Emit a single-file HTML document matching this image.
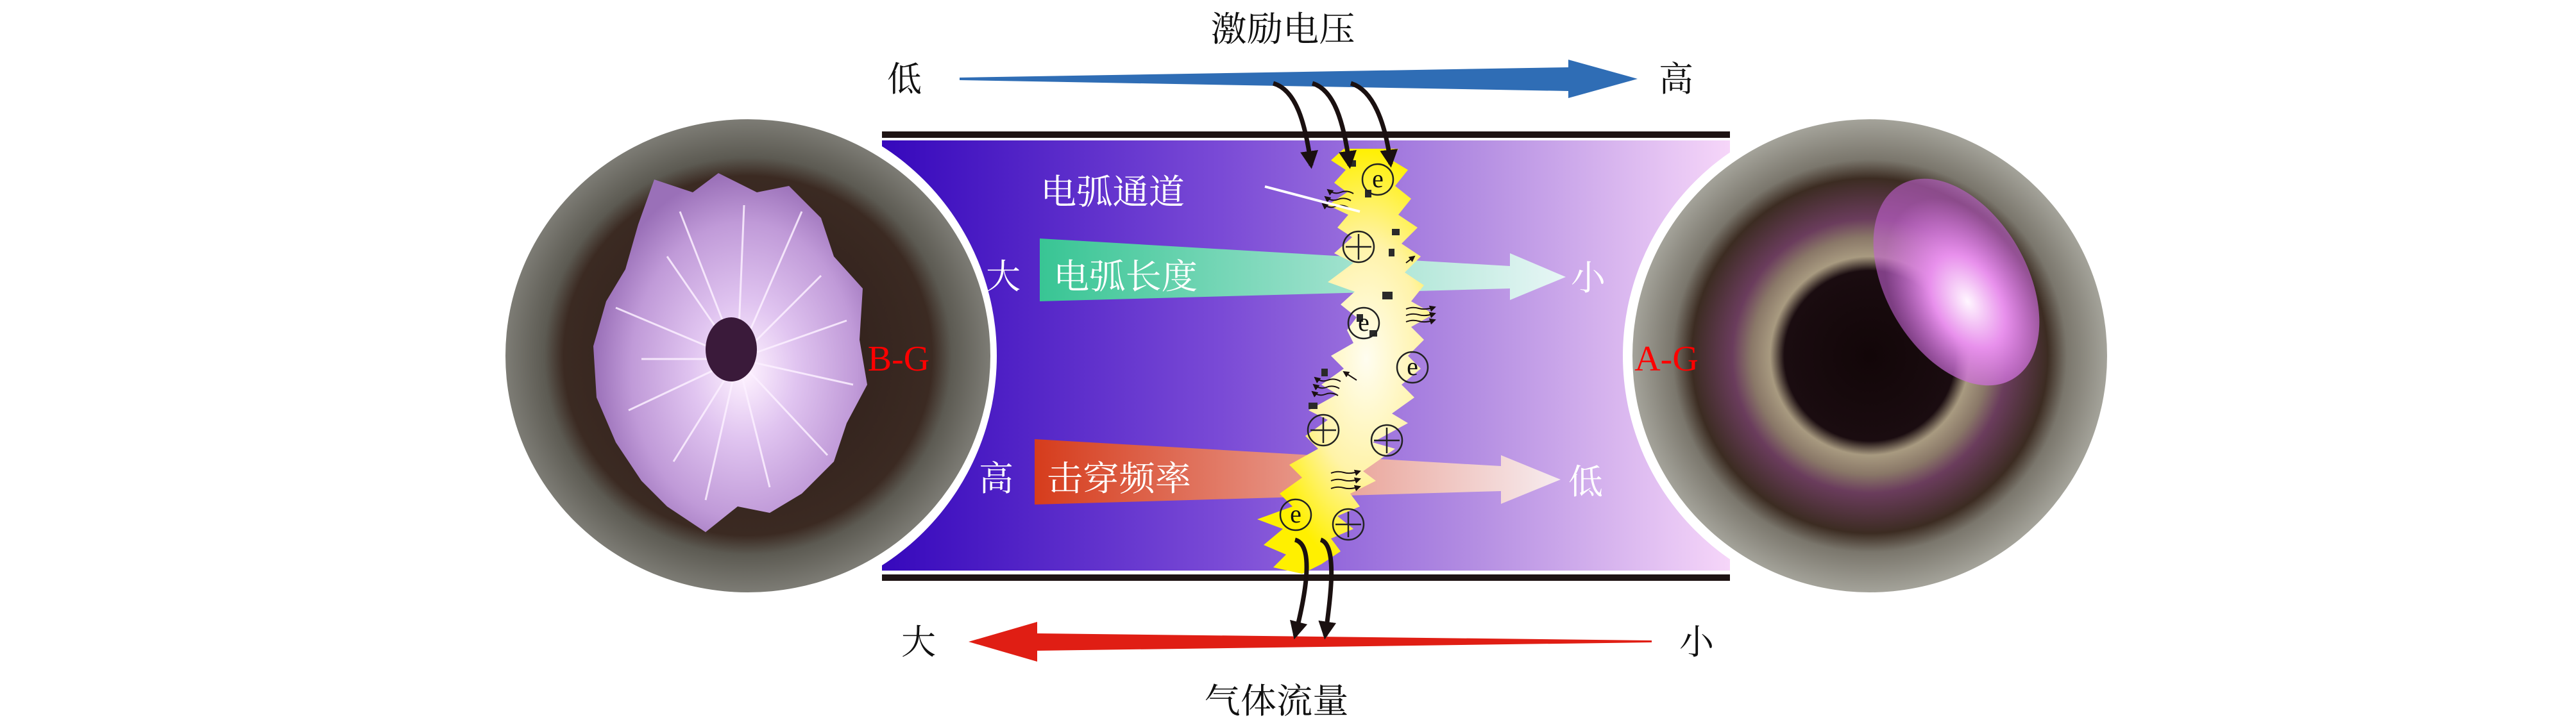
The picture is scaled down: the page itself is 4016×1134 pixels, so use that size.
<!DOCTYPE html>
<html><head><meta charset="utf-8"><style>
html,body{margin:0;padding:0;background:#fff}
svg{display:block}
text{font-family:"Liberation Serif","Noto Serif CJK SC",serif}
</style></head><body>
<svg width="4016" height="1134" viewBox="0 0 4016 1134" xmlns="http://www.w3.org/2000/svg">
<defs>
<linearGradient id="band" x1="0" x2="1" y1="0" y2="0">
<stop offset="0" stop-color="#3608bc"/><stop offset="0.4" stop-color="#7a4ad6"/><stop offset="0.7" stop-color="#b48ee2"/><stop offset="1" stop-color="#f6d6f9"/>
</linearGradient>
<linearGradient id="green" x1="0" x2="1"><stop offset="0" stop-color="#38c594"/><stop offset="1" stop-color="#e8f6f6"/></linearGradient>
<linearGradient id="orange" x1="0" x2="1"><stop offset="0" stop-color="#d63c1c"/><stop offset="1" stop-color="#f7ecef"/></linearGradient>
<radialGradient id="arc" cx="2130" cy="560" r="330" gradientUnits="userSpaceOnUse" gradientTransform="translate(2130 560) scale(0.5 1) translate(-2130 -560)">
<stop offset="0" stop-color="#fffdf0"/><stop offset="0.55" stop-color="#fff3a8"/><stop offset="1" stop-color="#fff000"/></radialGradient>
<radialGradient id="lring" cx="0.5" cy="0.5" r="0.5"><stop offset="0" stop-color="#2a1a18"/><stop offset="0.76" stop-color="#3b2a22"/><stop offset="0.84" stop-color="#5c5a52"/><stop offset="1" stop-color="#7d7c75"/></radialGradient>
<radialGradient id="flower" cx="0.55" cy="0.55" r="0.55"><stop offset="0" stop-color="#fff4ff"/><stop offset="0.35" stop-color="#e0c4f0"/><stop offset="0.75" stop-color="#c09ad8"/><stop offset="1" stop-color="#9a70b8"/></radialGradient>
<radialGradient id="rring" cx="0.5" cy="0.5" r="0.5"><stop offset="0" stop-color="#120608"/><stop offset="0.36" stop-color="#1a0c10"/><stop offset="0.42" stop-color="#a89a80"/><stop offset="0.5" stop-color="#8a7868"/><stop offset="0.58" stop-color="#6a3c5c"/><stop offset="0.75" stop-color="#3c2c22"/><stop offset="0.83" stop-color="#7a766c"/><stop offset="1" stop-color="#a4a39a"/></radialGradient>
<radialGradient id="glow" cx="0.5" cy="0.6" r="0.5"><stop offset="0" stop-color="#fff6ff"/><stop offset="0.45" stop-color="#e890ec"/><stop offset="1" stop-color="#c060d0" stop-opacity="0.6"/></radialGradient>
<marker id="ah" viewBox="0 0 10 10" refX="8" refY="5" markerWidth="4" markerHeight="4" orient="auto"><path d="M0,0 L10,5 L0,10 Z" fill="#1a1010"/></marker>
<marker id="sah" viewBox="0 0 10 10" refX="8" refY="5" markerWidth="5" markerHeight="5" orient="auto"><path d="M0,0 L10,5 L0,10 Z" fill="#1a1010"/></marker>
</defs>

<rect x="1375" y="219" width="1322" height="671" fill="url(#band)"/>
<rect x="1375" y="205" width="1322" height="10" fill="#1e1414"/>
<rect x="1375" y="896" width="1322" height="10" fill="#1e1414"/>

<!-- left photo -->
<circle cx="1166" cy="555" r="388" fill="#fff"/>
<ellipse cx="1166" cy="555" rx="378" ry="369" fill="url(#lring)"/>
<polygon points="1020,280 1080,300 1120,270 1180,300 1230,290 1280,340 1300,400 1345,450 1340,530 1352,600 1320,660 1300,720 1250,770 1200,800 1150,790 1100,830 1040,790 1000,750 960,690 930,620 925,540 945,470 975,420 995,350" fill="url(#flower)"/>
<g stroke="#fbf0ff" stroke-width="3" fill="none" opacity="0.85">
<path d="M1040 400 L1150 560 L1280 430 M1000 560 L1150 560 L1330 600 M1050 720 L1150 560 L1200 760 M960 480 L1150 560 L1060 330 M1320 500 L1150 560 L1290 710 M1150 560 L1160 320 M1150 560 L980 640 M1150 560 L1250 330 M1150 560 L1100 780"/>
</g>
<ellipse cx="1140" cy="545" rx="40" ry="50" fill="#3a1a3a"/>
<text x="1401" y="578" font-size="56" fill="#ff0000" text-anchor="middle">B-G</text>

<!-- right photo -->
<circle cx="2915" cy="555" r="385" fill="#fff"/>
<ellipse cx="2915" cy="555" rx="370" ry="369" fill="url(#rring)"/>
<ellipse cx="3050" cy="440" rx="110" ry="175" fill="url(#glow)" transform="rotate(-30 3050 440)"/>
<text x="2598" y="578" font-size="56" fill="#ff0000" text-anchor="middle">A-G</text>

<polygon points="1621,372 2354,415 2354,395 2441,432 2354,468 2354,450 1621,470" fill="url(#green)"/>
<polygon points="1613,685 2340,727 2340,710 2433,748 2340,786 2340,766 1613,787" fill="url(#orange)"/>

<polygon fill="url(#arc)" points="2095,232 2075,250 2098,265 2080,285 2100,300 2070,320 2102,335 2085,355 2108,370 2080,395 2110,410 2070,440 2112,455 2090,475 2115,495 2100,515 2110,535 2075,555 2095,575 2060,600 2085,615 2040,640 2070,655 2035,680 2055,700 2010,725 2030,745 1995,770 2015,790 1960,810 2000,825 1970,850 2005,865 1985,885 2030,895 2060,880 2090,860 2075,840 2110,825 2085,805 2120,790 2105,770 2145,750 2125,735 2175,700 2140,690 2195,660 2170,645 2205,620 2185,600 2215,575 2195,555 2220,530 2200,510 2235,490 2200,470 2220,445 2190,425 2215,400 2185,380 2210,355 2180,335 2200,310 2175,290 2195,265 2170,250 2180,232"/>
<g fill="#2a2a2a">
<rect x="2102" y="250" width="12" height="10"/><rect x="2128" y="296" width="10" height="12"/><rect x="2170" y="357" width="12" height="10"/><rect x="2165" y="388" width="9" height="12"/><rect x="2155" y="455" width="16" height="12"/><rect x="2115" y="490" width="10" height="12"/><rect x="2135" y="515" width="12" height="10"/><rect x="2060" y="575" width="10" height="12"/><rect x="2040" y="628" width="14" height="10"/>
</g>
<g fill="none" stroke="#222" stroke-width="2.5">
<circle cx="2148" cy="280" r="24"/><circle cx="2118" cy="385" r="24"/><circle cx="2126" cy="504" r="24"/><circle cx="2202" cy="573" r="24"/><circle cx="2063" cy="671" r="24"/><circle cx="2162" cy="687" r="24"/><circle cx="2020" cy="803" r="24"/><circle cx="2102" cy="818" r="24"/>
<path d="M2118 365 V405 M2098 385 H2138 M2063 651 V691 M2043 671 H2083 M2162 667 V707 M2142 687 H2182 M2102 798 V838 M2082 818 H2122"/>
</g>
<g font-size="40" fill="#111" text-anchor="middle"><text x="2148" y="292">e</text><text x="2126" y="516">e</text><text x="2202" y="585">e</text><text x="2020" y="815">e</text></g>

<g fill="none" stroke="#1a1010" stroke-width="2" marker-end="url(#sah)">
<path d="M2110 302 q-10 -6 -20 -2 t-20 -4"/><path d="M2106 313 q-10 -6 -20 -2 t-20 -4"/><path d="M2102 324 q-10 -6 -20 -2 t-20 -4"/>
<path d="M2192 410 L2205 400"/>
<path d="M2192 482 q10 -4 20 -1 t25 -2"/><path d="M2192 492 q10 -4 20 -1 t25 -2"/><path d="M2192 502 q10 -4 20 -1 t25 -2"/>
<path d="M2115 593 L2095 580"/>
<path d="M2090 595 q-10 -6 -20 -2 t-20 -4"/><path d="M2088 606 q-10 -6 -20 -2 t-20 -4"/><path d="M2086 617 q-10 -6 -20 -2 t-20 -4"/>
<path d="M2075 738 q10 -4 20 -1 t25 -2"/><path d="M2075 750 q10 -4 20 -1 t25 -2"/><path d="M2075 762 q10 -4 20 -1 t25 -2"/>
</g>

<line x1="1972" y1="291" x2="2120" y2="330" stroke="#fff" stroke-width="4"/>

<polygon points="1496,121 2445,105 2445,93 2553,123 2445,153 2445,142 1496,125" fill="#2f6db5"/>
<polygon points="1510,1001 1617,970 1617,988 2575,999 2575,1002 1617,1015 1617,1032" fill="#e01e14"/>

<g fill="none" stroke="#1a1010" stroke-width="7" marker-end="url(#ah)">
<path d="M1985 130 C2020 140 2035 190 2044 258"/>
<path d="M2046 130 C2080 140 2095 190 2104 258"/>
<path d="M2106 130 C2140 140 2160 190 2168 256"/>
<path d="M2019 842 C2050 850 2035 930 2019 992"/>
<path d="M2059 842 C2085 850 2075 930 2066 992"/>
</g>

<g font-size="54" fill="#111" text-anchor="middle">
<text x="2000" y="64" textLength="225" lengthAdjust="spacingAndGlyphs">激励电压</text>
<text x="1410" y="142">低</text>
<text x="2613" y="142">高</text>
<text x="1432" y="1020">大</text>
<text x="2645" y="1020">小</text>
<text x="1990" y="1112" textLength="225" lengthAdjust="spacingAndGlyphs">气体流量</text>
</g>
<g font-size="54" fill="#fff">
<text x="1622" y="318" textLength="225" lengthAdjust="spacingAndGlyphs">电弧通道</text>
<text x="1642" y="450" textLength="225" lengthAdjust="spacingAndGlyphs">电弧长度</text>
<text x="1632" y="765" textLength="225" lengthAdjust="spacingAndGlyphs">击穿频率</text>
<text x="1564" y="450" text-anchor="middle">大</text>
<text x="1553" y="765" text-anchor="middle">高</text>
<text x="2476" y="452" text-anchor="middle">小</text>
<text x="2472" y="770" text-anchor="middle">低</text>
</g>
</svg>
</body></html>
